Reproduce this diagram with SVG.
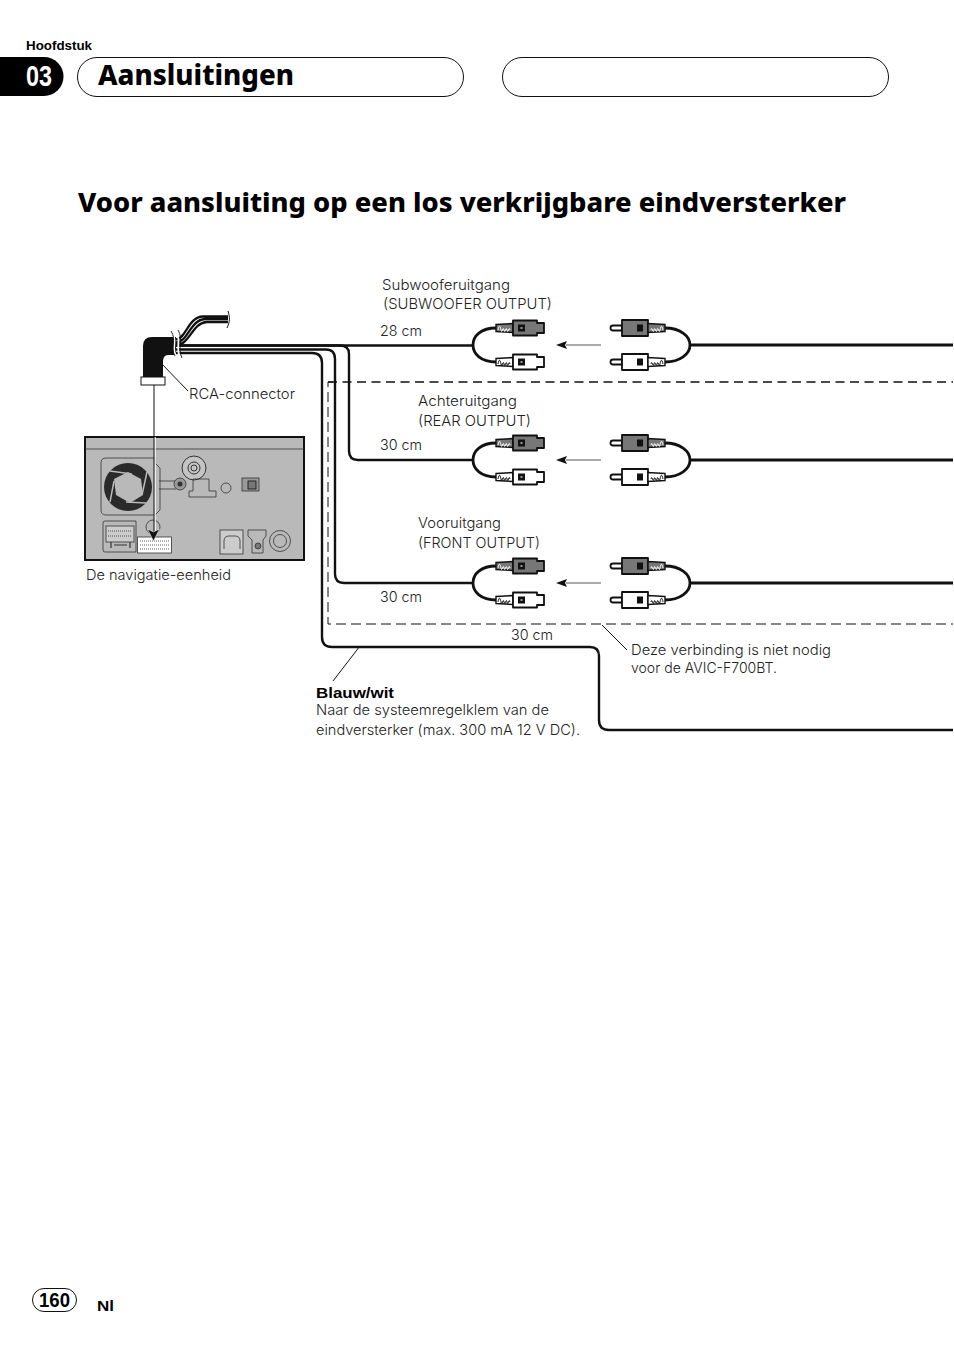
<svg xmlns="http://www.w3.org/2000/svg" width="954" height="1352" viewBox="0 0 954 1352">
<style>
.t{font-family:"Inter","Liberation Sans",Arial,sans-serif;font-weight:300;font-size:14.500px;fill:#222}
.h{font-family:"Noto Sans","Open Sans",sans-serif;font-weight:800;fill:#000}
.b{font-family:"Liberation Sans",Arial,sans-serif;font-weight:700;fill:#000}
.w{fill:none;stroke:#111;stroke-width:2.400}
.c{fill:none;stroke:#111;stroke-width:2.800}
.l{fill:none;stroke:#111;stroke-width:1}
.p{stroke:#111;stroke-width:1.800;stroke-linejoin:round}
.u{fill:none;stroke:#333;stroke-width:.8}
</style>
<defs>
<g id="sg"><path d="M0 -3.500L17 -4.500V4.500L0 3.500Z" fill="#777" stroke="#111" stroke-width="1.400"/><path d="M2 2C3 -3 4 -3 5 2S7 -3 8 2S10 -3 11 2S13 -3 14 2" fill="none" stroke="#fff" stroke-width="1"/></g>
<g id="sw"><path d="M0 -3.500L17 -4.500V4.500L0 3.500Z" fill="#fff" stroke="#111" stroke-width="1.400"/><path d="M2 2C3 -3 4 -3 5 2S7 -3 8 2S10 -3 11 2S13 -3 14 2" fill="none" stroke="#111" stroke-width="1"/></g>
<g id="pair">
<path class="c" d="M24 0C9 0 1 8 1 17C1 26 9 34 24 34"/>
<use href="#sg" x="24"/><use href="#sw" x="24" y="34"/>
<path class="p" fill="#777" d="M41 -7.500H65V-5H72V5H65V7.500H41Z"/><path class="p" fill="#fff" d="M41 26.500H65V29H72V39H65V41.500H41Z"/>
<rect x="46" y="-3.500" width="7" height="7" fill="#111"/><rect x="46" y="30.500" width="7" height="7" fill="#111"/>
<rect x="48.500" y="-1" width="2" height="2" fill="#999"/><rect x="48.500" y="33" width="2" height="2" fill="#999"/>
<path d="M94 17H129" stroke="#555" stroke-width="1"/><path d="M84 17L95 13L93 17L95 21Z" fill="#111"/>
<path class="p" fill="#fff" d="M150 -2.500H141A2.500 2.500 0 0 0 141 2.500H150Z"/><path class="p" fill="#fff" d="M150 31.500H141A2.500 2.500 0 0 0 141 36.500H150Z"/>
<path class="p" fill="#777" d="M150 -8H176V8H150Z"/><path class="p" fill="#fff" d="M150 26H176V42H150Z"/>
<rect x="165" y="-3.500" width="6" height="7" fill="#111"/><rect x="165" y="30.500" width="6" height="7" fill="#111"/>
<use href="#sg" transform="translate(193) scale(-1 1)"/><use href="#sw" transform="translate(193 34) scale(-1 1)"/>
<path class="c" d="M193 0C208 0 218 8 218 17C218 26 208 34 193 34M218 17H481"/>
</g>
</defs>

<g id="header">
<text class="b" x="26" y="50" font-size="12" textLength="66" lengthAdjust="spacingAndGlyphs">Hoofdstuk</text>
<path d="M0 57H44A19.500 19.500 0 0 1 44 96H0Z" fill="#000"/>
<text x="39" y="86" text-anchor="middle" font-family="Liberation Sans,sans-serif" font-weight="700" font-size="29" fill="#fff" textLength="26" lengthAdjust="spacingAndGlyphs">03</text>
<rect x="77.500" y="57.500" width="386" height="39" rx="19.500" fill="#fff" stroke="#111"/>
<text class="h" x="98" y="85" font-size="27.500" textLength="196" lengthAdjust="spacingAndGlyphs">Aansluitingen</text>
<rect x="502.500" y="57.500" width="386" height="39" rx="19.500" fill="#fff" stroke="#111"/>
<text class="h" x="78" y="212" font-size="26.500" textLength="768" lengthAdjust="spacingAndGlyphs">Voor aansluiting op een los verkrijgbare eindversterker</text>
</g>

<g id="connectors">
<path d="M174 345.500H340Q349 345.500 349 354V451Q349 460 358 460H473" class="w"/>
<path d="M174 345.500H473" class="w"/>
<path d="M174 349.500H326Q335 349.500 335 359V574Q335 583 344 583H473" class="w"/>
<path d="M174 353H312Q322 353 322 363V637Q322 647 332 647H590Q599 647 599 656V720Q599 730 609 730H953" class="w" stroke-width="2.600"/>
<path d="M328 382H953" fill="none" stroke="#111" stroke-width="1.500" stroke-dasharray="9 5.500"/>
<path d="M333 382H328V624H953" fill="none" stroke="#111" stroke-width="1" stroke-dasharray="10 5"/>
<path class="l" d="M160 362L188 391"/>
<path class="l" d="M360 646L333 681"/>
<path class="l" d="M602 625L627 650"/>
</g>

<g id="rca-connector">
<path d="M143 378V346Q143 337 152 337H176V355H168Q163 355 163 362V378Z" fill="#111"/>
<rect x="141" y="377" width="24" height="8" fill="#fff" stroke="#111" stroke-width="1"/>
<path d="M176 342.500C188 342 190 320 205 319H228M176 339.500C186 339 188 317 203 316.500H228M176 345C190 345 192 322.500 207 322H228" fill="none" stroke="#111" stroke-width="2.300"/>
<path d="M172 332C178 340 171 348 176 356M176 331C182 340 175 348 180 357" fill="none" stroke="#fff" stroke-width="1.800"/>
<path d="M171 331C177 340 170 348 175 356M178 330C184 340 177 348 182 358" fill="none" stroke="#111" stroke-width=".9"/>
<path d="M228 311C230 317 230 322 227 328" fill="none" stroke="#111" stroke-width="1"/>
</g>

<g id="navigation-unit">
<rect x="85" y="437" width="219" height="123" fill="#b9b9b9" stroke="#111" stroke-width="2"/>
<path d="M85 449H304" stroke="#333" stroke-width=".8"/>
<path class="u" d="M106 458H155V463L160 468V510L155 515H106Q101 515 101 510V463Q101 458 106 458Z"/>
<circle cx="128" cy="487" r="24" fill="#2a2a2a"/>
<path d="M128 472L141 479L143 495L130 503L116 495L114 479Z" fill="#b9b9b9"/>
<path d="M110 471L132 474M147 472L142 495M146 503L126 502M110 502L114 481" stroke="#b9b9b9" stroke-width="1.500"/>
<circle cx="194" cy="468" r="12" fill="#c4c4c4" stroke="#333"/><circle cx="194" cy="468" r="6" fill="none" stroke="#333"/><circle cx="194" cy="468" r="3" fill="none" stroke="#333"/>
<path class="u" d="M159 481H176M159 489H176"/>
<circle cx="180" cy="484" r="6" fill="#999" stroke="#333" stroke-width=".8"/><circle cx="180" cy="484" r="2.500" fill="#333"/>
<path class="u" d="M193 479H209V491H216V497H189V491H193Z"/>
<circle cx="226" cy="488" r="5" fill="none" stroke="#333" stroke-width=".8"/>
<rect x="242" y="478" width="17" height="13" fill="#999" stroke="#333" stroke-width=".8"/><rect x="248" y="481" width="8" height="8" fill="#777" stroke="#111" stroke-width=".8"/>
<path class="u" d="M105 521H136V552H105Q103 552 103 550V523Q103 521 105 521Z"/><rect x="106" y="526" width="28" height="16" fill="#ccc" stroke="#333" stroke-width=".8"/><path d="M108 531H132M108 536H132" stroke="#333" stroke-width=".8" stroke-dasharray="1 1"/><path d="M111 542V548M130 542V548M114 545H127" stroke="#333" stroke-width="1.200"/>
<circle cx="153" cy="527" r="7" fill="none" stroke="#333" stroke-width=".8"/>
<rect x="137.500" y="537" width="34" height="16" fill="#fff" stroke="#333" stroke-width=".8"/><path d="M140 541H169M140 545H169M140 549H169" stroke="#333" stroke-width=".8" stroke-dasharray="1 1"/>
<rect x="220" y="530" width="23" height="24" fill="#ccc" stroke="#333" stroke-width=".8"/><path d="M224 549V541Q224 536 229 536H235Q240 536 240 541V549" fill="none" stroke="#333" stroke-width=".8"/>
<path class="u" d="M248 530H266V536L263 540V553H252V540L248 536Z"/><circle cx="258" cy="546" r="3" fill="#777" stroke="#333" stroke-width=".8"/>
<circle cx="280" cy="541" r="10.500" fill="none" stroke="#333" stroke-width=".8"/><circle cx="280" cy="541" r="6.500" fill="none" stroke="#333" stroke-width=".8"/>
</g>

<g id="unit-arrow">
<path d="M155 437V532" stroke="#fff" stroke-width="1.500"/>
<path d="M154 385V532" stroke="#111" stroke-width="1"/>
<path d="M153.500 541L147.500 529L153.500 532L159.500 529Z" fill="#111" stroke="#fff" stroke-width=".5"/>
</g>

<g id="rca-sub"><use href="#pair" x="472" y="328"/></g>
<g id="rca-rear"><use href="#pair" x="472" y="443"/></g>
<g id="rca-front"><use href="#pair" x="472" y="566"/></g>

<g id="labels">
<text class="t" x="382" y="290" textLength="128" lengthAdjust="spacingAndGlyphs">Subwooferuitgang</text>
<text class="t" x="383" y="309" textLength="169" lengthAdjust="spacingAndGlyphs">(SUBWOOFER OUTPUT)</text>
<text class="t" x="380" y="336" textLength="42" lengthAdjust="spacingAndGlyphs">28 cm</text>
<text class="t" x="189" y="399" textLength="106" lengthAdjust="spacingAndGlyphs">RCA-connector</text>
<text class="t" x="418" y="406" textLength="99" lengthAdjust="spacingAndGlyphs">Achteruitgang</text>
<text class="t" x="418" y="426" textLength="113" lengthAdjust="spacingAndGlyphs">(REAR OUTPUT)</text>
<text class="t" x="380" y="450" textLength="42" lengthAdjust="spacingAndGlyphs">30 cm</text>
<text class="t" x="418" y="528" textLength="83" lengthAdjust="spacingAndGlyphs">Vooruitgang</text>
<text class="t" x="418" y="548" textLength="122" lengthAdjust="spacingAndGlyphs">(FRONT OUTPUT)</text>
<text class="t" x="86" y="580" textLength="145" lengthAdjust="spacingAndGlyphs">De navigatie-eenheid</text>
<text class="t" x="380" y="602" textLength="42" lengthAdjust="spacingAndGlyphs">30 cm</text>
<text class="t" x="511" y="640" textLength="42" lengthAdjust="spacingAndGlyphs">30 cm</text>
<text class="t" x="631" y="655" textLength="200" lengthAdjust="spacingAndGlyphs">Deze verbinding is niet nodig</text>
<text class="t" x="631" y="673" textLength="146" lengthAdjust="spacingAndGlyphs">voor de AVIC-F700BT.</text>
<text class="b" x="316" y="698" font-size="14.500" textLength="78" lengthAdjust="spacingAndGlyphs">Blauw/wit</text>
<text class="t" x="316" y="715" textLength="233" lengthAdjust="spacingAndGlyphs">Naar de systeemregelklem van de</text>
<text class="t" x="316" y="735" textLength="264" lengthAdjust="spacingAndGlyphs">eindversterker (max. 300 mA 12 V DC).</text>
</g>

<g id="footer">
<rect x="32.500" y="1288.500" width="44" height="23" rx="11.500" fill="#fff" stroke="#111"/>
<text class="b" x="39" y="1307" font-size="20" textLength="31" lengthAdjust="spacingAndGlyphs">160</text>
<text class="b" x="97" y="1311" font-size="14" textLength="17" lengthAdjust="spacingAndGlyphs">Nl</text>
</g>
</svg>
